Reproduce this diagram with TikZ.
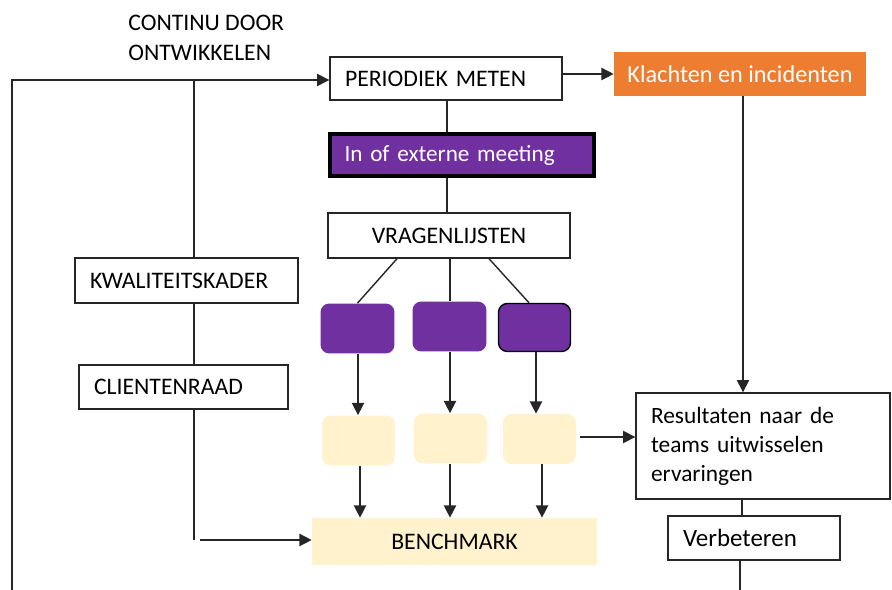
\documentclass[tikz,border=0pt]{standalone}
\usepackage{fontspec}
\setmainfont{Carlito}
\usetikzlibrary{arrows.meta}
\definecolor{paars}{HTML}{7030A0}
\definecolor{oranje}{HTML}{ED7D31}
\definecolor{creme}{HTML}{FFF2CC}
\definecolor{lijn}{HTML}{262626}

\begin{document}
\begin{tikzpicture}[x=0.02cm,y=-0.02cm,
    vak/.style={draw=lijn,line width=0.8pt,fill=white,inner xsep=0.3cm,inner ysep=0pt,font=\fontsize{13.5}{16}\selectfont},
    links/.style={text width=#1,align=left},
    paarsvak/.style={fill=paars,rounded corners=5pt,minimum width=1.48cm,minimum height=1.0cm},
    cremevak/.style={fill=creme,rounded corners=5pt,minimum width=1.46cm,minimum height=1.0cm},
    pijl/.style={-{Triangle[length=7pt,width=7pt]},lijn,line width=0.8pt},
    lijntje/.style={lijn,line width=0.8pt}]
    \useasboundingbox (0,0) rectangle (892,590);
    % bovenste rij
    \node[anchor=north west,align=left,inner sep=0pt,font=\fontsize{13.5}{17}\selectfont] (tekst) at (128,15) {CONTINU DOOR\\ONTWIKKELEN};
    \node[vak,minimum width=4.64cm,minimum height=0.86cm,links=4.04cm] (meten) at (446,78.5) {PERIODIEK METEN};
    \node[fill=oranje,text=white,minimum width=5.04cm,minimum height=0.88cm,font=\fontsize{13.8}{16}\selectfont] (klacht) at (740,74) {Klachten en incidenten};
    \node[draw=black,line width=2.3pt,fill=paars,text=white,minimum width=5.28cm,minimum height=0.84cm,inner xsep=0.2cm,links=4.7cm,font=\fontsize{13.2}{16}\selectfont] (meeting) at (462,155) {In of externe meeting};
    \node[vak,minimum width=4.84cm,minimum height=0.9cm] (vragen) at (449,235.5) {VRAGENLIJSTEN};
    % links
    \node[vak,minimum width=4.46cm,minimum height=0.9cm,links=3.86cm] (kwal) at (186.5,280.5) {KWALITEITSKADER};
    \node[vak,minimum width=4.18cm,minimum height=0.88cm,links=3.58cm] (client) at (183.5,387) {CLIENTENRAAD};
    % midden
    \node[paarsvak] (p1) at (357.5,328.5) {};
    \node[paarsvak] (p2) at (449.5,326.5) {};
    \node[paarsvak,draw=black,line width=0.8pt,minimum width=1.44cm,minimum height=0.96cm] (p3) at (534.5,327.5) {};
    \node[cremevak] (c1) at (358.5,440.5) {};
    \node[cremevak] (c2) at (450.5,438.5) {};
    \node[cremevak] (c3) at (539.5,439) {};
    \node[fill=creme,minimum width=5.7cm,minimum height=0.94cm,font=\fontsize{13.5}{16}\selectfont] (bench) at (454.5,541.5) {BENCHMARK};
    % rechts
    \node[vak,minimum width=5.08cm,minimum height=2.12cm,links=4.48cm,font=\fontsize{13.3}{16.5}\selectfont] (result) at (763,446) {Resultaten naar de\\teams uitwisselen\\ervaringen};
    \node[vak,minimum width=3.44cm,minimum height=0.88cm,links=2.84cm,font=\fontsize{14.2}{16}\selectfont] (verb) at (754,538) {Verbeteren};
    % hulppunten
    \coordinate (lo) at (12,590);
    \coordinate (lb) at (12,80);
    \coordinate (kb) at (194,80);
    \coordinate (ko) at (194,540);
    \coordinate (vo) at (740,590);
    % verbindingen
    \draw[pijl] (lo) -- (lb) -- (meten.west |- lb);
    \draw[lijntje] (kb) -- (kwal.north -| kb);
    \draw[lijntje] (kwal.south -| kb) -- (client.north -| kb);
    \draw[lijntje] (client.south -| kb) -- (ko);
    \draw[pijl] ([xshift=0.12cm]ko) -- (bench.west |- ko);
    \draw[pijl] (meten.east |- klacht) -- (klacht.west);
    \draw[pijl] (klacht.south -| 743,0) -- (result.north -| 743,0);
    \draw[lijntje] (meten.south -| 447,0) -- (meeting.north -| 447,0);
    \draw[lijntje] (meeting.south -| 447,0) -- (vragen.north -| 447,0);
    \draw[lijntje] (vragen.south -| 397,0) -- (p1.north);
    \draw[lijntje] (vragen.south -| 450,0) -- (p2.north -| 450,0);
    \draw[lijntje] (vragen.south -| 489,0) -- (p3.north -| 529,0);
    \draw[pijl] (p1.south -| 358,0) -- (c1.north -| 358,0);
    \draw[pijl] (p2.south -| 450,0) -- (c2.north -| 450,0);
    \draw[pijl] (p3.south -| 536,0) -- (c3.north -| 536,0);
    \draw[pijl] (c1.south -| 360,0) -- (bench.north -| 360,0);
    \draw[pijl] (c2.south -| 450,0) -- (bench.north -| 450,0);
    \draw[pijl] (c3.south -| 542,0) -- (bench.north -| 542,0);
    \draw[pijl] ([xshift=0.08cm]c3.east |- 0,437) -- (result.west |- 0,437);
    \draw[lijntje] (result.south -| 742,0) -- (verb.north -| 742,0);
    \draw[lijntje] (verb.south -| vo) -- (vo);
\end{tikzpicture}
\end{document}
